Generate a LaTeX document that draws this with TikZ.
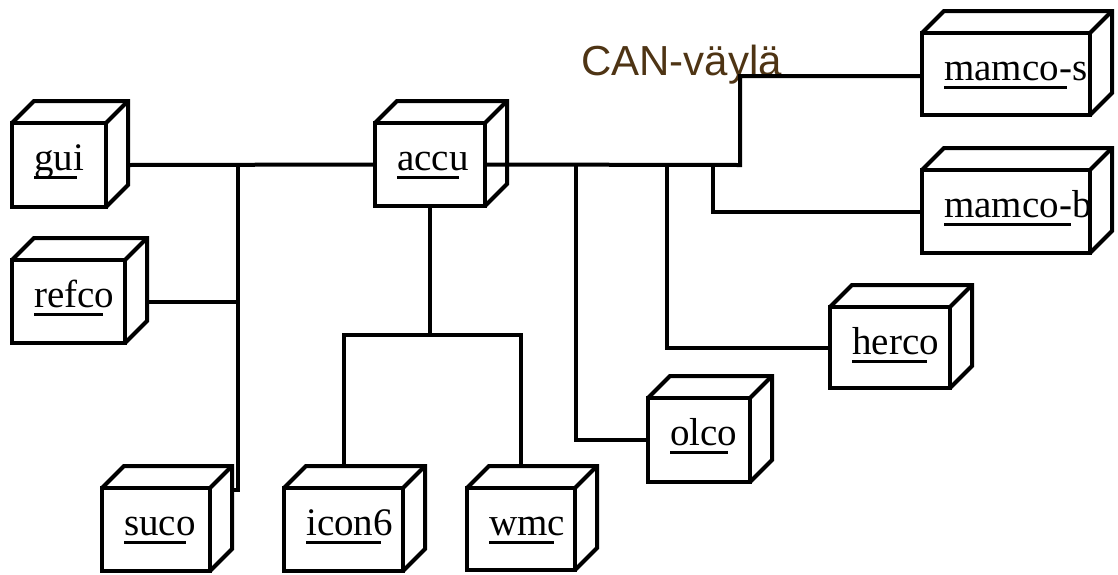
\documentclass[tikz,border=0pt]{standalone}
\usepackage{fontspec}
\setmainfont{Liberation Serif}
\newfontfamily\cansans{Liberation Sans}
\usetikzlibrary{calc}
\definecolor{canbrown}{RGB}{78,52,20}

% underlined node name, the rule a little shorter than the word
\newsavebox\lblbox
\newcommand\ulabel[1]{\sbox\lblbox{#1}\rlap{\rule[-9pt]{\dimexpr\wd\lblbox*86/100\relax}{2.6pt}}\usebox\lblbox}

\tikzset{
  conn/.style={line width=4pt, line join=miter},
  front/.style={draw, line width=4pt, rectangle, inner sep=0pt, outer sep=0pt},
  edge/.style={line width=4pt, line join=miter},
  lbl/.style={inner sep=0pt, font=\fontsize{39}{45}\selectfont},
  can/.style={inner sep=0pt, text=canbrown, font=\cansans\fontsize{42}{48}\selectfont}
}

% UML deployment node: name, x, y (top left of front face), width, height, label
\newcommand\umlnode[6]{%
  \node[front, minimum width=#4pt, minimum height=#5pt, anchor=north west] (#1) at (#2,#3) {};
  \draw[edge] (#1.north west) -- ++(22,-22) -- ++(#4,0) -- ++(0,#5) -- (#1.south east);
  \draw[edge] (#1.north east) -- ++(22,-22);
  \coordinate (#1-side) at ($(#1.east)+(22,0)$);
  \node[lbl, anchor=base west] (#1-l) at ($(#1.north west)+(22,47)$) {\ulabel{#6}};
}

\begin{document}
\begin{tikzpicture}[x=1pt, y=-1pt]
\useasboundingbox (0,0) rectangle (1118,574);

% nodes
\umlnode{gui}{12}{123}{94}{84}{gui}
\umlnode{refco}{12}{260}{113}{83}{refco}
\umlnode{accu}{375}{123}{110}{83}{accu}
\umlnode{mamcos}{922}{33}{168}{82}{mamco-s}
\umlnode{mamcob}{922}{170}{168}{83}{mamco-b}
\umlnode{herco}{830}{307}{120}{81}{herco}
\umlnode{olco}{648}{398}{102}{84}{olco}
\umlnode{suco}{102}{488}{108}{83}{suco}
\umlnode{icon}{284}{488}{119}{83}{icon6}
\umlnode{wmc}{467}{488}{108}{82}{wmc}

% bus label
\node[can, anchor=base west] (can) at (581,75) {CAN-väylä};

% junction points on the bus lines
\coordinate (jl) at (238,165);
\coordinate (sucohook) at ($(suco.north east)+(22,2)$);
\coordinate (tee) at (430,335);
\coordinate (jr) at (740,165);
\coordinate (jo) at (576,165);
\coordinate (jh) at (667,165);
\coordinate (jb) at (713,165);

% left side
\draw[conn] (gui-side) -- (accu.west);
\draw[conn] (jl) |- (sucohook);
\draw[conn] (refco-side) -- (refco-side -| jl);

% below accu
\draw[conn] (accu.south) -- (tee);
\draw[conn] ($(icon.north)+(0,-22)$) |- (tee) -| ($(wmc.north)+(0,-22)$);

% right side (CAN bus)
\draw[conn] (accu.east) -- (jr) |- ($(mamcos.west)+(0,2)$);
\draw[conn] (jo) |- (olco.west);
\draw[conn] (jh) |- (herco.west);
\draw[conn] (jb) |- (mamcob.west);
\end{tikzpicture}
\end{document}
